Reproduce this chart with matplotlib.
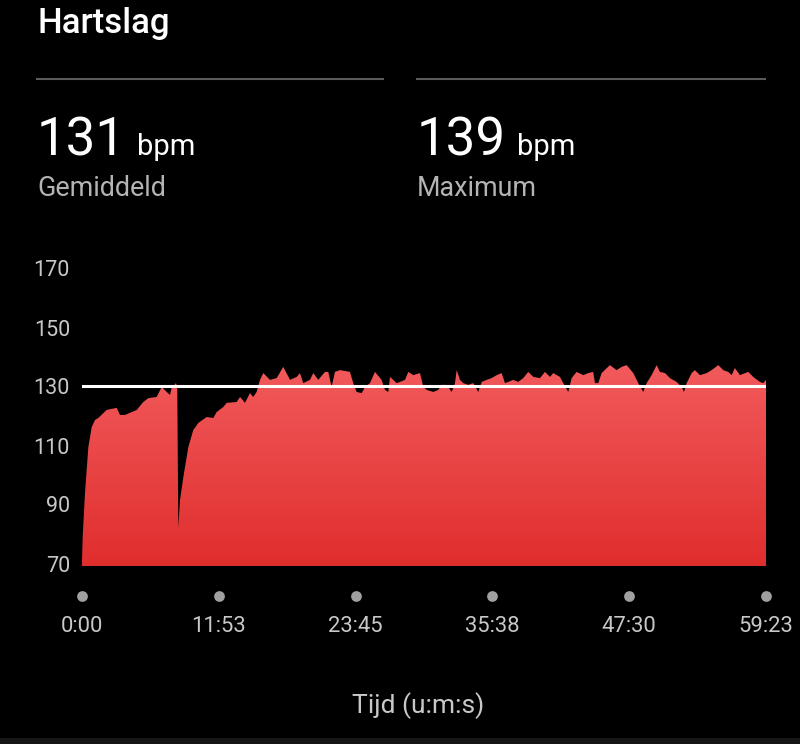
import numpy as np
import matplotlib.pyplot as plt
from matplotlib.colors import LinearSegmentedColormap

plt.rcParams['font.family'] = ['Roboto', 'DejaVu Sans']

# hartslag over de tijd (minuten, bpm)
tijd = [0.0, 0.06, 0.26, 0.55, 0.84, 1.13, 1.42, 2.14, 3.01, 3.30, 3.73, 4.75, 5.32, 5.76,
        6.48, 6.92, 7.35, 7.64, 7.78, 8.16, 8.27, 8.36, 8.51, 8.80, 9.23, 9.66, 10.10,
        10.82, 11.40, 11.69, 12.27, 12.56, 13.43, 13.72, 14.15, 14.58, 14.87, 15.16,
        15.45, 15.74, 16.32, 16.90, 17.47, 18.06, 18.64, 18.92, 19.21, 19.79,
        20.08, 20.51, 21.09, 21.38, 21.67, 21.96, 22.40, 23.26, 23.55, 23.84, 24.28,
        24.57, 25.00, 25.43, 26.01, 26.30, 26.59, 26.74, 27.32, 27.60, 28.04, 28.33,
        28.76, 29.34, 29.63, 29.92, 30.50, 30.93, 31.22, 31.66, 32.09, 32.38, 32.53,
        32.81, 33.10, 33.53, 33.97, 34.40, 34.70, 35.13, 35.56, 36.00, 36.43, 36.72,
        37.01, 37.44, 37.87, 38.31, 38.74, 39.18, 39.76,
        40.19, 40.63, 40.91, 41.49, 41.78, 42.21, 42.51, 42.94, 43.52, 43.95, 44.38,
        44.53, 44.82, 45.11, 45.83, 46.41, 46.85, 47.28, 47.86, 48.29, 48.72, 49.02,
        49.45, 49.89, 50.17, 50.61, 51.04, 51.62, 52.06, 52.26, 52.49, 52.93, 53.21,
        53.65, 54.23, 54.66, 55.24, 55.67, 56.10, 56.40, 56.68, 57.12, 57.84, 58.27,
        58.85, 59.14, 59.38]
bpm = [72.0, 80.0, 94.7, 110.3, 117.1, 119.5, 120.2, 122.9, 123.6, 121.2, 121.2, 122.9, 125.6, 126.9,
       127.3, 130.7, 129.0, 128.0, 130.3, 132.0, 130.7, 82.9, 92.4, 100.2, 110.3, 116.1, 118.5,
       120.5, 120.2, 122.2, 123.9, 125.3, 125.6, 127.3, 125.3, 128.6, 127.3, 129.0,
       133.1, 135.4, 133.1, 133.7, 137.5, 133.1, 134.1, 135.4, 132.0, 133.1,
       135.4, 133.1, 135.8, 135.8, 130.7, 135.8, 136.4, 135.8, 132.0, 129.0, 128.6,
       130.7, 132.0, 135.8, 133.1, 129.7, 129.0, 134.1, 132.0, 132.4, 133.1, 135.8,
       134.7, 135.4, 130.7, 129.7, 129.0, 129.7, 131.4, 131.4, 129.0, 132.0, 136.4,
       133.1, 132.0, 131.4, 132.0, 129.0, 132.4, 133.1, 133.7, 134.7, 135.4, 132.0,
       132.4, 133.1, 132.4, 133.7, 135.8, 134.1, 133.7,
       135.8, 134.1, 135.4, 134.1, 132.0, 129.0, 133.7, 135.8, 134.7, 135.4, 135.8,
       132.0, 132.0, 135.4, 138.1, 136.4, 137.5, 138.1, 135.4, 132.0, 129.0, 132.0,
       134.7, 138.1, 135.8, 135.4, 133.7, 132.4, 130.7, 129.0, 132.0, 135.4, 136.4,
       134.7, 135.4, 136.4, 138.1, 136.4, 135.8, 134.7, 137.1, 134.7, 135.8, 134.1,
       132.4, 132.0, 133.1]

gemiddeld = 131
maximum = 139
y_ticks = [70, 90, 110, 130, 150, 170]
x_ticks = [0, 11.883, 23.75, 35.633, 47.5, 59.383]
x_labels = ['0:00', '11:53', '23:45', '35:38', '47:30', '59:23']

W, H = 800, 744
fig = plt.figure(figsize=(8, 7.44), dpi=100, facecolor='black')


def fy(py):
    return 1 - py / H


ax = fig.add_axes([82 / W, fy(566), 684 / W, (566 - 271) / H])
ax.set_facecolor('black')
ax.set_xlim(0, tijd[-1])
ax.set_ylim(70, 170)
for s in ax.spines.values():
    s.set_visible(False)
ax.set_xticks([])
ax.set_yticks([])

# gevuld gebied met verloop
poly = ax.fill_between(tijd, 70, bpm, color='none', lw=0)
cmap = LinearSegmentedColormap.from_list('rood', ['#e02e2d', '#f25a5c'])
grad = np.linspace(0, 1, 256).reshape(-1, 1)
img = ax.imshow(grad, cmap=cmap, aspect='auto', origin='lower',
                extent=[0, tijd[-1], 70, max(bpm)], zorder=2)
img.set_clip_path(poly.get_paths()[0], transform=ax.transData)

ax.axhline(gemiddeld, color='white', lw=2.2, zorder=3)

# y labels
for v in y_ticks:
    ax.text(-12 / 684 * tijd[-1], v, str(v), ha='right', va='center',
            color='#c8c8c8', fontsize=15.5, clip_on=False)

# x ticks: stippen + labels
ax.scatter(x_ticks, [70 - 30 / 2.95] * len(x_ticks), s=60, color='#a0a0a0',
           clip_on=False, zorder=3, linewidths=0)
for xv, lab in zip(x_ticks, x_labels):
    ax.text(xv, 70 - 61 / 2.95, lab, ha='center', va='center',
            color='#c8c8c8', fontsize=15.8, clip_on=False)

fig.text(418 / W, fy(713), 'Tijd (u:m:s)', ha='center', va='baseline',
         color='#c8c8c8', fontsize=19)

# kop
fig.text(37 / W, fy(33), 'Hartslag', ha='left', va='baseline', color='white',
         fontsize=25, fontweight='medium')
fig.add_artist(plt.Line2D([37 / W, 383 / W], [fy(79), fy(79)], color='#5a5a5a', lw=1.5))
fig.add_artist(plt.Line2D([417 / W, 765 / W], [fy(79), fy(79)], color='#5a5a5a', lw=1.5))

for x0, val, lab in [(37, gemiddeld, 'Gemiddeld'), (417, maximum, 'Maximum')]:
    t = fig.text(x0 / W, fy(155), str(val), ha='left', va='baseline', color='white',
                 fontsize=38)
    fig.canvas.draw()
    bb = t.get_window_extent()
    fig.text((bb.x1 + 11) / W, fy(155), 'bpm', ha='left', va='baseline',
             color='white', fontsize=21)
    fig.text(x0 / W, fy(196), lab, ha='left', va='baseline', color='#b4b4b4',
             fontsize=19.4)

# donkere balk onderaan
fig.add_artist(plt.Rectangle((0, 0), 1, 6 / H, transform=fig.transFigure,
                             color='#151515', lw=0))

plt.savefig('out.png', dpi=100, facecolor='black')
